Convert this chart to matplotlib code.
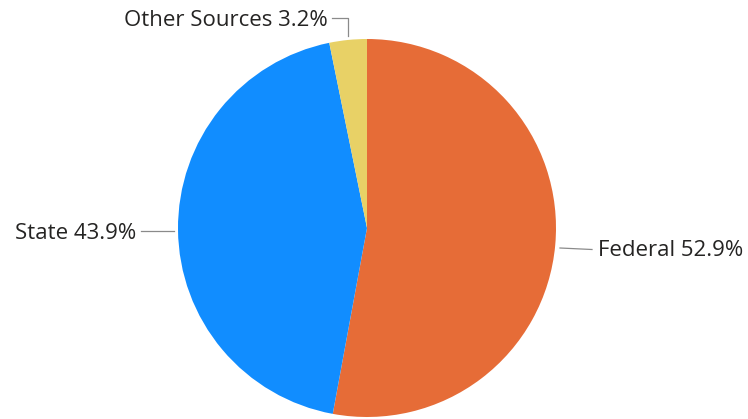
import numpy as np
import matplotlib
matplotlib.use("Agg")
import matplotlib.pyplot as plt

categories = ["Federal", "State", "Other Sources"]
values = [52.9, 43.9, 3.2]
colors = ["#E66C37", "#118DFF", "#E8D166"]

W, H = 748, 419
fig = plt.figure(figsize=(W / 100, H / 100), dpi=100)
ax = fig.add_axes([0, 0, 1, 1])

cx, cy, R = 367, H - 228, 189
wedges, _ = ax.pie(values, colors=colors, startangle=90, counterclock=False,
                   center=(cx, cy), radius=R, frame=True,
                   wedgeprops=dict(linewidth=0))
ax.set_xlim(0, W)
ax.set_ylim(0, H)
ax.set_aspect("equal")
ax.axis("off")

font = dict(family=["Open Sans", "DejaVu Sans"], fontsize=16, color="#252423")
lc = "#8a8a8a"

# Federal
ax.plot([560, 592], [H - 248, H - 249.5], color=lc, lw=0.9)
ax.text(598, H - 251, f"{categories[0]} {values[0]}%", ha="left", va="center", **font)
# State
ax.plot([141, 174], [H - 231, H - 231], color=lc, lw=0.9)
ax.text(136, H - 233, f"{categories[1]} {values[1]}%", ha="right", va="center", **font)
# Other Sources
ax.plot([332, 348, 348], [H - 17.5, H - 17.5, H - 36], color=lc, lw=0.9)
ax.text(328, H - 20, f"{categories[2]} {values[2]}%", ha="right", va="center", **font)

fig.savefig("out.png", dpi=100)
